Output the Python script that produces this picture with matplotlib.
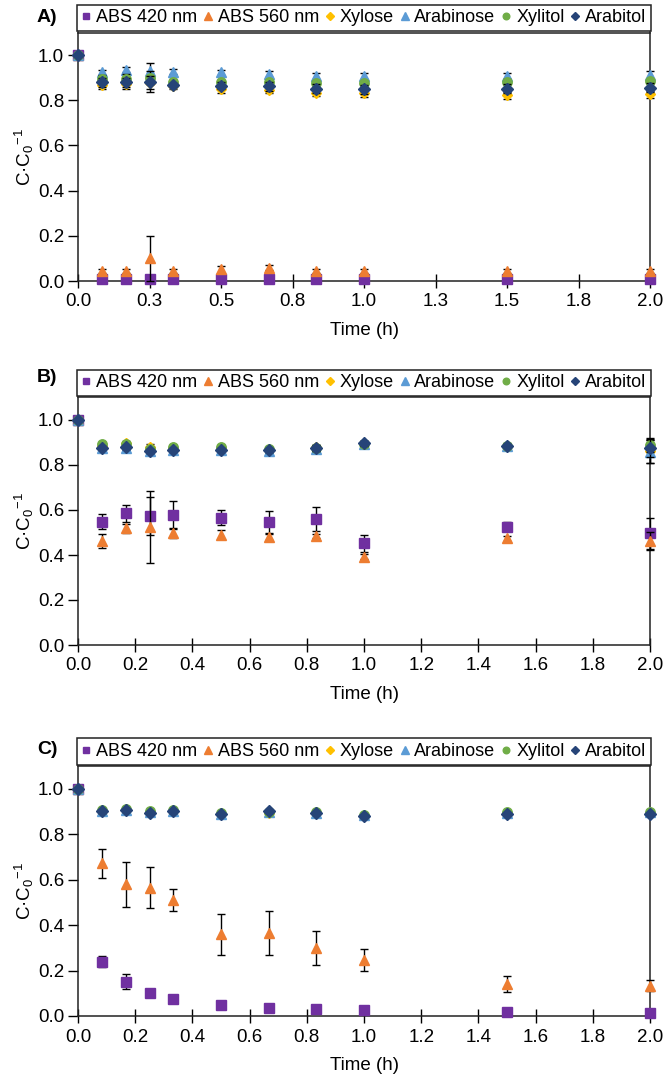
import numpy as np
import matplotlib
matplotlib.use("Agg")
import matplotlib.pyplot as plt

plt.rcParams["font.family"] = ["Liberation Sans", "DejaVu Sans"]
plt.rcParams["mathtext.fontset"] = "custom"
plt.rcParams["mathtext.rm"] = "Liberation Sans"
plt.rcParams["mathtext.default"] = "regular"

# sampling times (h)
TIME = [0, 0.083, 0.167, 0.25, 0.333, 0.5, 0.667, 0.833, 1.0, 1.5, 2.0]

SERIES = ["ABS 420 nm", "ABS 560 nm", "Xylose", "Arabinose", "Xylitol", "Arabitol"]
COLORS = ["#7030A0", "#ED7D31", "#FFC000", "#5B9BD5", "#70AD47", "#264478"]
MARKERS = ["s", "^", "D", "^", "o", "D"]
MSIZE = [6.6, 7.6, 5.4, 7.4, 6.8, 5.8]

# panel A
A_ABS420 = [1.0, 0.01, 0.01, 0.01, 0.01, 0.01, 0.01, 0.01, 0.01, 0.01, 0.01]
A_ABS420_ERR = [0, 0.005, 0.005, 0.005, 0.005, 0.005, 0.005, 0.005, 0.005, 0.005, 0.005]
A_ABS560 = [1.0, 0.045, 0.045, 0.10, 0.045, 0.052, 0.059, 0.045, 0.045, 0.045, 0.045]
A_ABS560_ERR = [0, 0.01, 0.01, 0.10, 0.01, 0.015, 0.01, 0.01, 0.01, 0.01, 0.01]
A_XYL = [1.0, 0.867, 0.871, 0.875, 0.864, 0.849, 0.846, 0.834, 0.831, 0.822, 0.827]
A_XYL_ERR = [0, 0.018, 0.02, 0.04, 0.015, 0.015, 0.015, 0.015, 0.015, 0.015, 0.015]
A_ARA = [1.0, 0.923, 0.935, 0.93, 0.927, 0.923, 0.916, 0.908, 0.908, 0.908, 0.911]
A_ARA_ERR = [0, 0.013, 0.012, 0.035, 0.01, 0.01, 0.012, 0.012, 0.012, 0.012, 0.02]
A_XOH = [1.0, 0.893, 0.896, 0.90, 0.883, 0.881, 0.881, 0.876, 0.876, 0.883, 0.886]
A_XOH_ERR = [0, 0.02, 0.02, 0.03, 0.01, 0.01, 0.01, 0.01, 0.01, 0.01, 0.01]
A_AOH = [1.0, 0.879, 0.879, 0.879, 0.868, 0.864, 0.861, 0.852, 0.849, 0.852, 0.856]
A_AOH_ERR = [0, 0.02, 0.02, 0.03, 0.01, 0.015, 0.02, 0.02, 0.02, 0.02, 0.02]

# panel B
B_ABS420 = [1.0, 0.548, 0.585, 0.573, 0.578, 0.566, 0.545, 0.559, 0.452, 0.526, 0.496]
B_ABS420_ERR = [0, 0.034, 0.037, 0.085, 0.06, 0.034, 0.05, 0.053, 0.037, 0.02, 0.07]
B_ABS560 = [1.0, 0.462, 0.518, 0.526, 0.496, 0.489, 0.481, 0.484, 0.393, 0.474, 0.464]
B_ABS560_ERR = [0, 0.03, 0.02, 0.16, 0.02, 0.02, 0.015, 0.01, 0.01, 0.01, 0.04]
B_XYL = [1.0, 0.885, 0.897, 0.88, 0.876, 0.876, 0.868, 0.878, 0.896, 0.886, 0.86]
B_XYL_ERR = [0, 0.01, 0.01, 0.012, 0.01, 0.01, 0.01, 0.01, 0.012, 0.01, 0.05]
B_ARA = [1.0, 0.875, 0.877, 0.86, 0.866, 0.866, 0.864, 0.872, 0.893, 0.884, 0.859]
B_ARA_ERR = [0, 0.01, 0.01, 0.01, 0.01, 0.01, 0.01, 0.01, 0.01, 0.01, 0.05]
B_XOH = [1.0, 0.892, 0.895, 0.87, 0.882, 0.882, 0.873, 0.876, 0.895, 0.886, 0.889]
B_XOH_ERR = [0, 0.008, 0.008, 0.01, 0.008, 0.008, 0.008, 0.012, 0.01, 0.008, 0.03]
B_AOH = [1.0, 0.877, 0.879, 0.863, 0.868, 0.868, 0.866, 0.876, 0.896, 0.886, 0.874]
B_AOH_ERR = [0, 0.008, 0.008, 0.01, 0.008, 0.008, 0.008, 0.014, 0.01, 0.008, 0.04]

# panel C
C_ABS420 = [1.0, 0.239, 0.151, 0.103, 0.077, 0.047, 0.037, 0.031, 0.028, 0.018, 0.015]
C_ABS420_ERR = [0, 0.025, 0.033, 0.005, 0.005, 0.005, 0.005, 0.005, 0.005, 0.005, 0.005]
C_ABS560 = [1.0, 0.672, 0.579, 0.564, 0.51, 0.36, 0.365, 0.298, 0.247, 0.14, 0.133]
C_ABS560_ERR = [0, 0.065, 0.10, 0.09, 0.05, 0.09, 0.095, 0.075, 0.05, 0.035, 0.025]
C_XYL = [1.0, 0.902, 0.906, 0.896, 0.902, 0.89, 0.895, 0.894, 0.882, 0.893, 0.894]
C_XYL_ERR = [0, 0.005, 0.005, 0.005, 0.005, 0.005, 0.006, 0.005, 0.005, 0.005, 0.005]
C_ARA = [1.0, 0.903, 0.907, 0.897, 0.903, 0.891, 0.897, 0.895, 0.884, 0.895, 0.896]
C_ARA_ERR = [0, 0.005, 0.005, 0.005, 0.005, 0.005, 0.005, 0.005, 0.005, 0.005, 0.005]
C_XOH = [1.0, 0.908, 0.91, 0.90, 0.905, 0.893, 0.898, 0.896, 0.886, 0.899, 0.899]
C_XOH_ERR = [0, 0.005, 0.005, 0.005, 0.005, 0.005, 0.005, 0.005, 0.005, 0.005, 0.005]
C_AOH = [1.0, 0.90, 0.905, 0.893, 0.90, 0.888, 0.90, 0.895, 0.88, 0.888, 0.89]
C_AOH_ERR = [0, 0.005, 0.005, 0.005, 0.005, 0.005, 0.005, 0.005, 0.005, 0.005, 0.005]

XTICKS_A = [0, 0.25, 0.5, 0.75, 1.0, 1.25, 1.5, 1.75, 2.0]
XTICKLABELS_A = ["0.0", "0.3", "0.5", "0.8", "1.0", "1.3", "1.5", "1.8", "2.0"]
XTICKS_BC = [0, 0.2, 0.4, 0.6, 0.8, 1.0, 1.2, 1.4, 1.6, 1.8, 2.0]
YTICKS = [0, 0.2, 0.4, 0.6, 0.8, 1.0]

W, H = 664, 1084
fig = plt.figure(figsize=(W / 100, H / 100), dpi=100)


def panel(top, bottom, label, label_y, vals, errs, xticks, xlabels):
    ax = fig.add_axes([78 / W, 1 - bottom / H, (650 - 78) / W, (bottom - top) / H])
    for i in range(len(SERIES)):
        ax.errorbar(TIME, vals[i], yerr=errs[i], fmt=MARKERS[i], color=COLORS[i],
                    ms=MSIZE[i], mec=COLORS[i], ecolor="black", elinewidth=1,
                    capsize=3, capthick=1, clip_on=False, label=SERIES[i], zorder=3 + i)
    ax.set_xlim(0, 2.0)
    ax.set_ylim(0, 1.1)
    ax.set_xticks(xticks)
    ax.set_xticklabels(xlabels)
    ax.set_yticks(YTICKS)
    ax.set_yticklabels([f"{v:.1f}" for v in YTICKS])
    ax.tick_params(axis="x", direction="inout", length=10, width=1, labelsize=13.5, pad=4)
    ax.tick_params(axis="y", direction="out", length=7, width=1, labelsize=13.5, pad=3)
    for s in ax.spines.values():
        s.set_linewidth(1.1)
        s.set_color("#222222")
    ax.set_xlabel("Time (h)", fontsize=13.5, labelpad=8)
    ax.set_ylabel("C·C$_0$$^{-1}$", fontsize=13.5, labelpad=1)
    handles, labels = ax.get_legend_handles_labels()
    handles = [h[0] for h in handles]
    gap = 1.5 / (bottom - top)
    leg = ax.legend(handles, labels, loc="lower left", bbox_to_anchor=(-0.002, 1 + gap, 1.004, 0.1),
                    mode="expand", ncol=6, fontsize=13, handlelength=0.5, handletextpad=0.3,
                    columnspacing=0.5, borderpad=0.25, borderaxespad=0, markerscale=0.7,
                    fancybox=False, framealpha=1, edgecolor="#222222")
    leg.get_frame().set_linewidth(1.1)
    fig.text(47 / W, 1 - label_y / H, label, fontsize=14, fontweight="bold", ha="center", va="center")
    return ax


panel(32.5, 281, "A)", 17,
      [A_ABS420, A_ABS560, A_XYL, A_ARA, A_XOH, A_AOH],
      [A_ABS420_ERR, A_ABS560_ERR, A_XYL_ERR, A_ARA_ERR, A_XOH_ERR, A_AOH_ERR],
      XTICKS_A, XTICKLABELS_A)
panel(397.5, 645, "B)", 378,
      [B_ABS420, B_ABS560, B_XYL, B_ARA, B_XOH, B_AOH],
      [B_ABS420_ERR, B_ABS560_ERR, B_XYL_ERR, B_ARA_ERR, B_XOH_ERR, B_AOH_ERR],
      XTICKS_BC, [f"{v:.1f}" for v in XTICKS_BC])
panel(766, 1016, "C)", 750,
      [C_ABS420, C_ABS560, C_XYL, C_ARA, C_XOH, C_AOH],
      [C_ABS420_ERR, C_ABS560_ERR, C_XYL_ERR, C_ARA_ERR, C_XOH_ERR, C_AOH_ERR],
      XTICKS_BC, [f"{v:.1f}" for v in XTICKS_BC])

fig.savefig("out.png", dpi=100)
